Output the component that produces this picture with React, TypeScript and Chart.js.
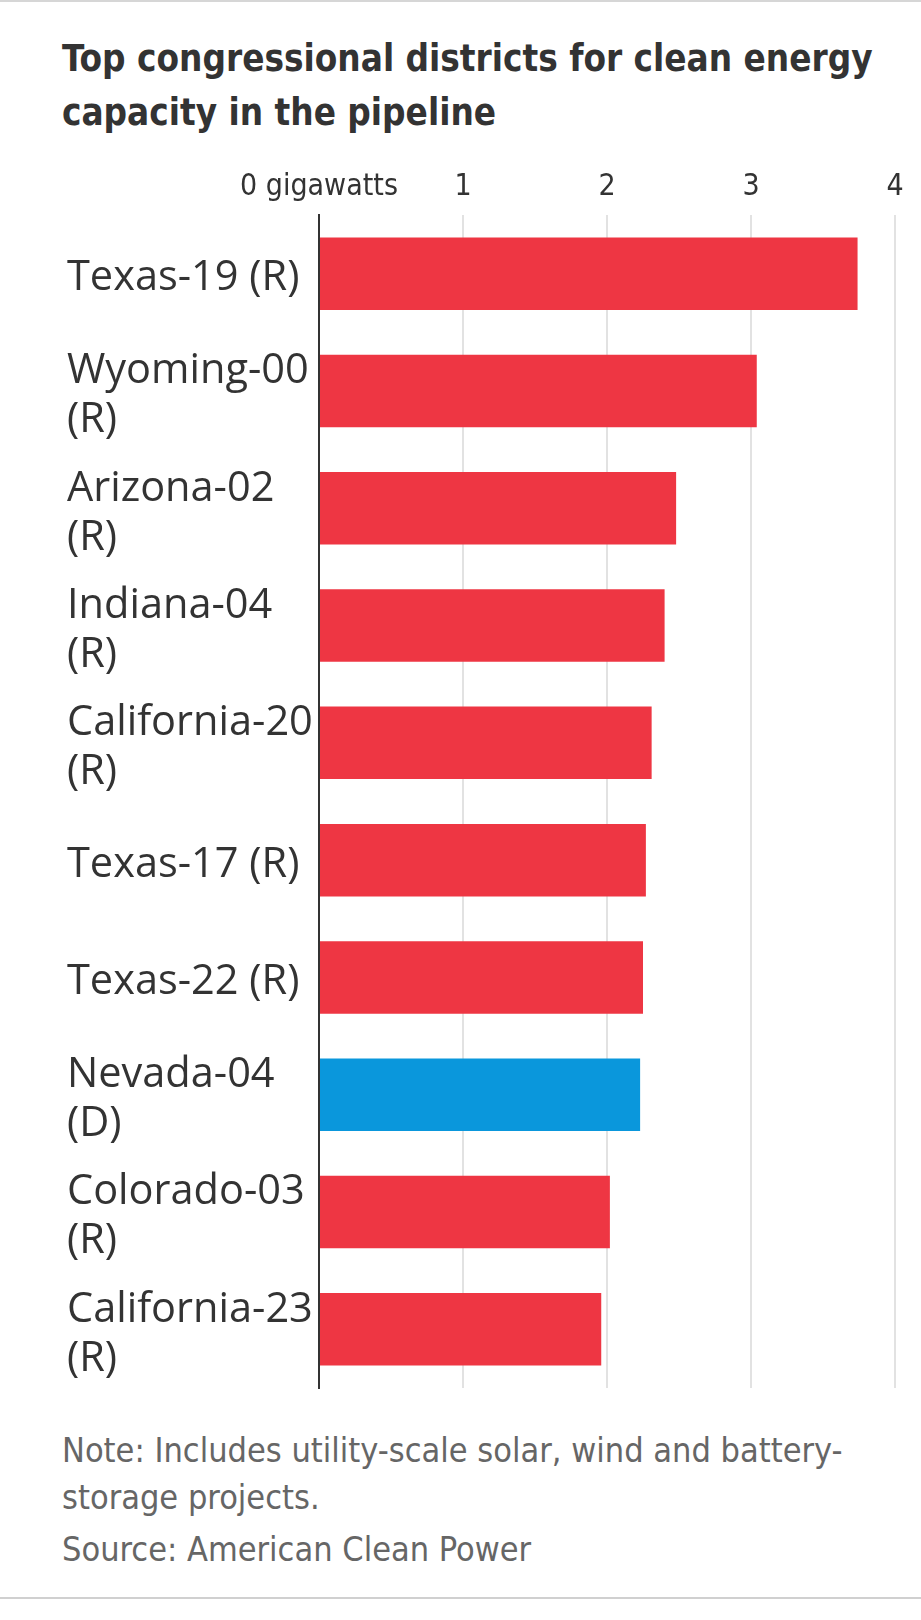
import React, { useEffect, useRef } from "react";
import { Chart, registerables } from "chart.js";

Chart.register(...registerables);

const districtLabels: string[][] = [
  ["Texas-19 (R)"],
  ["Wyoming-00", "(R)"],
  ["Arizona-02", "(R)"],
  ["Indiana-04", "(R)"],
  ["California-20", "(R)"],
  ["Texas-17 (R)"],
  ["Texas-22 (R)"],
  ["Nevada-04", "(D)"],
  ["Colorado-03", "(R)"],
  ["California-23", "(R)"],
];
const parties = ["R", "R", "R", "R", "R", "R", "R", "D", "R", "R"];
const capacityGW = [3.74, 3.04, 2.48, 2.4, 2.31, 2.27, 2.25, 2.23, 2.02, 1.96];
const xTickValues = [0, 1, 2, 3, 4];
const xTickLabels = ["0 gigawatts", "1", "2", "3", "4"];

const title = ["Top congressional districts for clean energy", "capacity in the pipeline"];
const noteLines = ["Note: Includes utility-scale solar, wind and battery-", "storage projects."];
const sourceText = "Source: American Clean Power";

const RED = "#ee3643";
const BLUE = "#0a97dc";

export default function App() {
  const canvasRef = useRef<HTMLCanvasElement | null>(null);

  useEffect(() => {
    const canvas = canvasRef.current;
    if (!canvas) return;
    const chart = new Chart(canvas, {
      type: "bar",
      data: {
        labels: districtLabels,
        datasets: [
          {
            data: capacityGW,
            backgroundColor: parties.map((p) => (p === "D" ? BLUE : RED)),
            borderWidth: 0,
            barPercentage: 0.618,
            categoryPercentage: 1,
          },
        ],
      },
      options: {
        indexAxis: "y",
        animation: false,
        responsive: false,
        maintainAspectRatio: false,
        layout: { padding: { left: 67, right: 26, top: 0, bottom: 12 } },
        plugins: {
          legend: { display: false },
          tooltip: { enabled: false },
          title: { display: false },
        },
        scales: {
          x: {
            position: "top",
            min: 0,
            max: 4,
            afterBuildTicks: (scale: any) => {
              scale.ticks = xTickValues.map((v) => ({ value: v }));
            },
            afterFit: (scale: any) => {
              scale.height = 65;
              scale.paddingLeft = 0;
              scale.paddingRight = 0;
            },
            ticks: {
              padding: 10,
              color: "#333333",
              font: { family: "'DejaVu Sans Condensed', 'DejaVu Sans', sans-serif", size: 30 },
              callback: (value: any) => {
                const i = xTickValues.indexOf(Number(value));
                return i >= 0 ? xTickLabels[i] : "";
              },
              maxRotation: 0,
              autoSkip: false,
            },
            grid: {
              color: "#e2e2e2",
              lineWidth: 2,
              drawTicks: false,
            },
            border: { display: false },
          },
          y: {
            afterFit: (scale: any) => {
              scale.width = 252;
              scale.paddingTop = 0;
              scale.paddingBottom = 0;
            },
            ticks: {
              crossAlign: "far",
              color: "#333333",
              autoSkip: false,
              labelOffset: 5,
              font: { family: "'Open Sans', sans-serif", size: 41.5, lineHeight: 1.18 },
            },
            grid: { display: false, drawTicks: false },
            border: { display: true, color: "#333333", width: 2 },
          },
        },
      } as any,
    });
    return () => chart.destroy();
  }, []);

  return (
    <div
      style={{
        position: "absolute",
        left: 0,
        top: 0,
        width: 921,
        height: 1620,
        background: "#ffffff",
        overflow: "hidden",
      }}
    >
      <div style={{ position: "absolute", left: 0, top: 0, width: 921, height: 2, background: "#d6d6d6" }} />
      <div
        style={{
          position: "absolute",
          left: 62,
          top: 32,
          fontFamily: "'DejaVu Sans Condensed', 'DejaVu Sans', sans-serif",
          fontWeight: "bold",
          fontSize: 36.5,
          lineHeight: "53.5px",
          color: "#333333",
          whiteSpace: "nowrap",
        }}
      >
        {title.map((t, i) => (
          <div key={i}>{t}</div>
        ))}
      </div>
      <canvas
        ref={canvasRef}
        width={921}
        height={1250}
        style={{ position: "absolute", left: 0, top: 150, width: 921, height: 1250 }}
      />
      <div
        style={{
          position: "absolute",
          left: 62,
          top: 1427,
          fontFamily: "'DejaVu Sans Condensed', 'DejaVu Sans', sans-serif",
          fontSize: 34,
          lineHeight: "47px",
          color: "#666666",
          whiteSpace: "nowrap",
        }}
      >
        {noteLines.map((t, i) => (
          <div key={i}>{t}</div>
        ))}
        <div style={{ marginTop: 5 }}>{sourceText}</div>
      </div>
      <div style={{ position: "absolute", left: 0, top: 1597, width: 921, height: 2, background: "#d0d0d0" }} />
    </div>
  );
}
